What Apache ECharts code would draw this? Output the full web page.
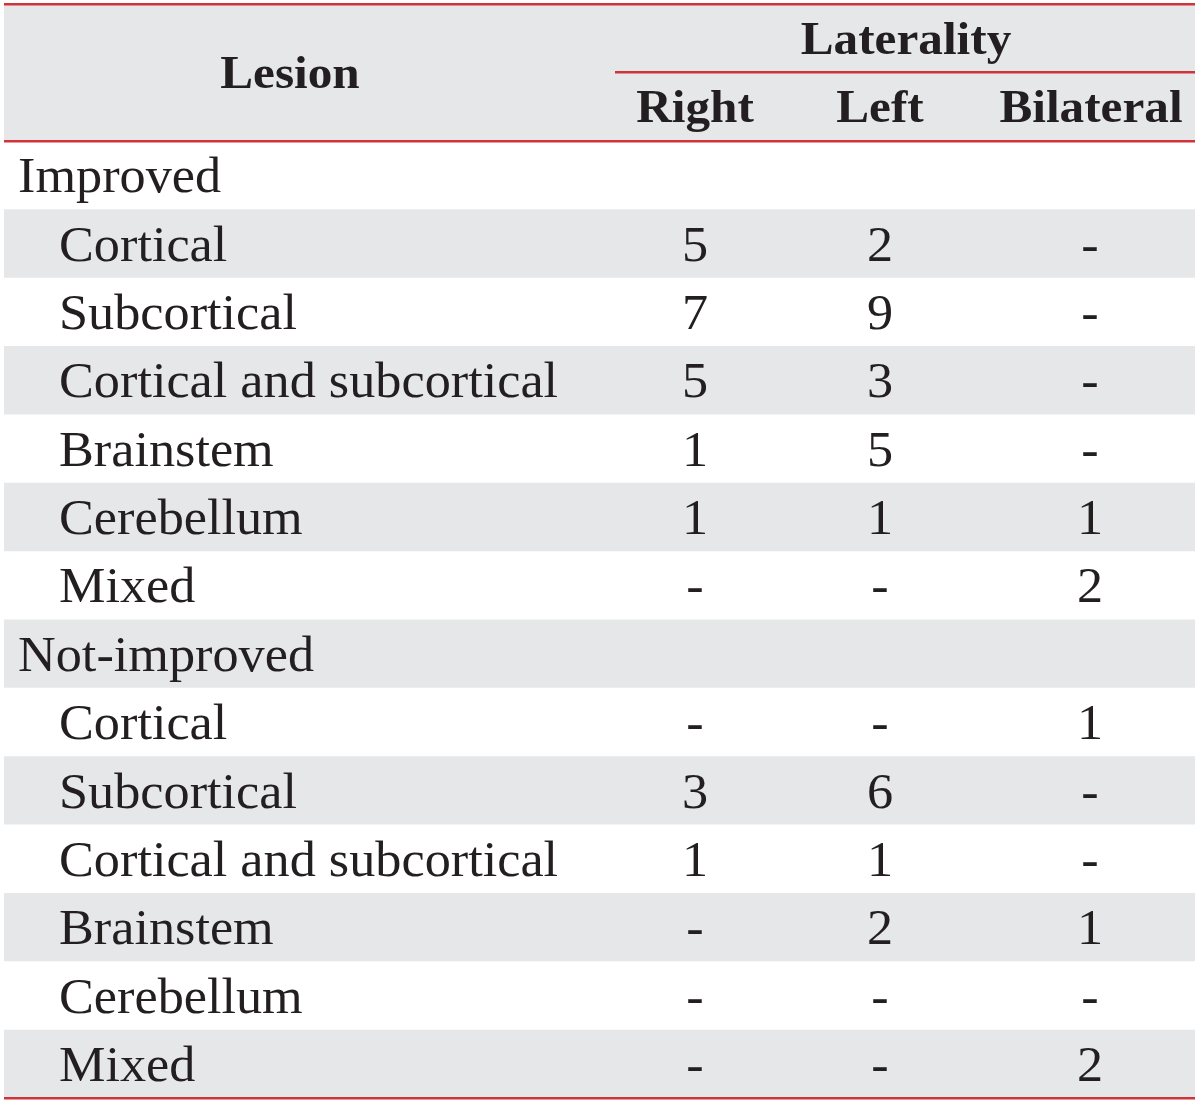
<!DOCTYPE html>
<html>
<head>
<meta charset="utf-8">
<script src="https://cdn.jsdelivr.net/npm/echarts@6/dist/echarts.min.js"></script>
<style>
html,body{margin:0;padding:0;background:#fff;}
#chart{width:1200px;height:1105px;}
</style>
</head>
<body>
<div id="chart"></div>
<script>
// ---- data ----
var rowLabels = ['Improved','Cortical','Subcortical','Cortical and subcortical','Brainstem','Cerebellum','Mixed',
                 'Not-improved','Cortical','Subcortical','Cortical and subcortical','Brainstem','Cerebellum','Mixed'];
var isGroup = [true,false,false,false,false,false,false,true,false,false,false,false,false,false];
var rightVals =     [null,5,7,5,1,1,null, null,null,3,1,null,null,null];
var leftVals =      [null,2,9,3,5,1,null, null,null,6,1,2,null,null];
var bilateralVals = [null,null,null,null,null,1,2, null,1,null,null,1,null,2];
var columnHeaders = ['Right','Left','Bilateral'];
var groupHeader = 'Laterality';
var firstHeader = 'Lesion';

// ---- layout / style ----
var W = 1200, H = 1105;
var tableLeft = 4, tableRight = 1195;
var headTop = 4, headBottom = 141, tableBottom = 1098;
var colX = [695, 880, 1090];
var red = '#cf343b', gray = '#e6e7e8', ink = '#231f20';
var font = '"Liberation Serif", "Times New Roman", serif';
var fs = 50, bodyScale = 1.045;
var hfs = 46, headScale = 1.07;

var chart = echarts.init(document.getElementById('chart'), null, {renderer:'canvas'});

var seriesData = rowLabels.map(function(l, i){ return [i]; });
var valCols = [rightVals, leftVals, bilateralVals];

function fmt(v){ return v == null ? '-' : String(v); }

function headText(t, x, y){
  return {type:'text', x:x, y:y, scaleX:headScale, z:6,
    style:{text:t, font:'bold '+hfs+'px '+font, fill:ink, textAlign:'center', textVerticalAlign:'middle'}};
}

var option = {
  backgroundColor: '#fff',
  animation: false,
  grid: {left: tableLeft, right: W - tableRight, top: headBottom, bottom: H - tableBottom},
  xAxis: {type:'value', min: tableLeft, max: tableRight, show:false},
  yAxis: {type:'category', data: rowLabels, inverse:true, show:false},
  graphic: [
    {type:'rect', shape:{x:tableLeft, y:headTop, width:tableRight-tableLeft, height:headBottom-headTop}, style:{fill:gray}, z:0},
    {type:'rect', shape:{x:tableLeft, y:headTop-1, width:tableRight-tableLeft, height:2.5}, style:{fill:red}, z:5},
    {type:'rect', shape:{x:615, y:71, width:tableRight-615, height:2.5}, style:{fill:red}, z:5},
    {type:'rect', shape:{x:tableLeft, y:headBottom-1, width:tableRight-tableLeft, height:2.5}, style:{fill:red}, z:5},
    {type:'rect', shape:{x:tableLeft, y:tableBottom-1, width:tableRight-tableLeft, height:2.5}, style:{fill:red}, z:5},
    headText(firstHeader, 290, 76),
    headText(groupHeader, 906, 42)
  ].concat(columnHeaders.map(function(h, j){
    return headText(h, colX[j] + (j === 2 ? 1 : 0), 110);
  })),
  series: [{
    type:'custom',
    data: seriesData,
    encode: {y: 0},
    renderItem: function(params, api){
      var i = api.value(0);
      var c = api.coord([tableLeft, i]);
      var bh = api.size([0, 1])[1];
      var top = c[1] - bh/2;
      var cy = c[1] + 4;
      var children = [];
      if (i % 2 === 1) {
        children.push({type:'rect', shape:{x:tableLeft, y:top, width:tableRight-tableLeft, height:bh}, style:{fill:gray}});
      }
      children.push({type:'text', x: isGroup[i] ? 18 : 59, y: cy, scaleX: bodyScale,
        style:{text: rowLabels[i], font: fs+'px '+font, fill: ink, textAlign:'left', textVerticalAlign:'middle'}});
      if (!isGroup[i]) {
        valCols.forEach(function(col, j){
          children.push({type:'text', x: colX[j], y: cy, scaleX: bodyScale,
            style:{text: fmt(col[i]), font: fs+'px '+font, fill: ink, textAlign:'center', textVerticalAlign:'middle'}});
        });
      }
      return {type:'group', children: children};
    }
  }]
};
chart.setOption(option);
</script>
</body>
</html>
